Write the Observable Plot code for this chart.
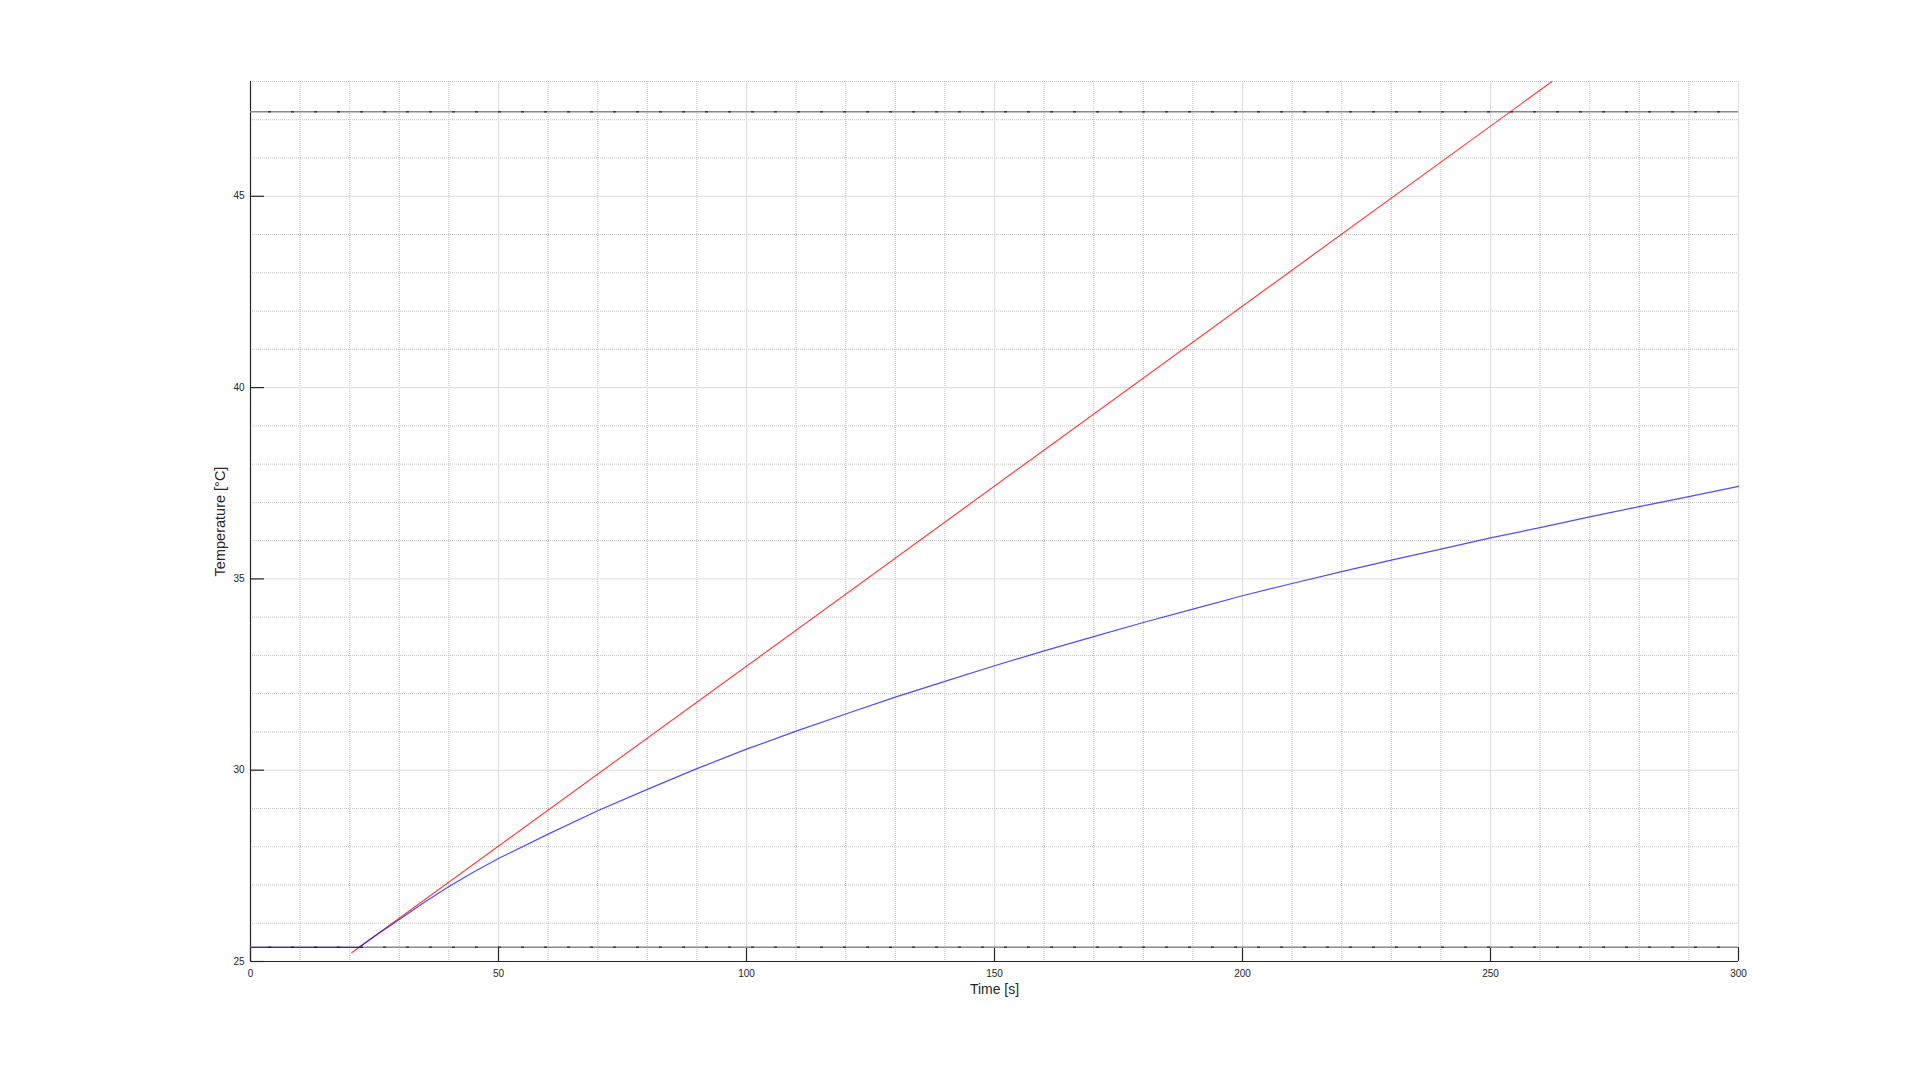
<!DOCTYPE html>
<html>
<head>
<meta charset="utf-8">
<script src="https://cdn.jsdelivr.net/npm/d3@7"></script>
<script src="https://cdn.jsdelivr.net/npm/@observablehq/plot@0.6"></script>
<style>
  html, body { margin: 0; padding: 0; background: #fff; }
  svg { display: block; }
</style>
</head>
<body>
<div id="chart"></div>
<script>
// ---- data ----
const xTicks = [0, 50, 100, 150, 200, 250, 300];
const yTicks = [25, 30, 35, 40, 45];
const limitLevels = [25.37, 47.21];

// red line (initial slope / tangent)
const redTime = [20.4, 262.4];
const redTemp = [25.23, 48.0];

// blue curve (measured temperature)
const blueTime = [0, 21.9, 25, 30, 35, 40, 45, 50, 60, 70, 80, 90, 100, 110, 120, 130, 140, 150,
  160, 170, 180, 190, 200, 210, 220, 230, 240, 250, 260, 270, 280, 290, 300];
const blueTemp = [25.37, 25.37, 25.66, 26.10, 26.54, 26.96, 27.34, 27.69, 28.33, 28.94, 29.50, 30.04,
  30.55, 31.02, 31.47, 31.91, 32.32, 32.73, 33.12, 33.49, 33.86, 34.21, 34.56, 34.88, 35.19, 35.49,
  35.78, 36.07, 36.34, 36.62, 36.89, 37.15, 37.42];

// ---- layout ----
const W = 1920, H = 1080;
const mL = 250, mR = 182, mT = 81, mB = 119;
const plotW = W - mL - mR, plotH = H - mT - mB;
const xDomain = [0, 300], yDomain = [25, 48];

const red = redTime.map((t, i) => ({t, v: redTemp[i]}));
const blue = blueTime.map((t, i) => ({t, v: blueTemp[i]}));

const xMinor = d3.range(10, 300, 10).filter(d => d % 50 !== 0);
const yMinor = d3.range(26, 49, 1).filter(d => d % 5 !== 0);
const xMajor = xTicks.filter(d => d !== 0);
const yMajor = yTicks.filter(d => d !== 25);

const font = "'Liberation Sans', Arial, Helvetica, sans-serif";

const chart = Plot.plot({
  width: W, height: H,
  marginLeft: mL, marginRight: mR, marginTop: mT, marginBottom: mB,
  style: {background: "#fff", fontFamily: font, color: "#262626"},
  x: {domain: xDomain, axis: null},
  y: {domain: yDomain, axis: null},
  marks: [
    // minor dotted grid
    Plot.ruleX(xMinor, {stroke: "#c2c2c2", strokeWidth: 1, strokeDasharray: "1,1"}),
    Plot.ruleY(yMinor, {stroke: "#c2c2c2", strokeWidth: 1, strokeDasharray: "1,1"}),
    // major solid grid
    Plot.ruleX(xMajor, {stroke: "#dcdcdc", strokeWidth: 1}),
    Plot.ruleY(yMajor, {stroke: "#dcdcdc", strokeWidth: 1}),
    // axis lines
    Plot.ruleX([xDomain[0]], {stroke: "#262626", strokeWidth: 1.2}),
    Plot.ruleY([yDomain[0]], {stroke: "#262626", strokeWidth: 1.2}),
    // inward ticks
    Plot.tickX(xTicks, {stroke: "#262626", strokeWidth: 1.2, insetTop: plotH - 14}),
    Plot.tickY(yTicks, {stroke: "#262626", strokeWidth: 1.2, insetRight: plotW - 14}),
    // tick labels
    Plot.axisX({ticks: xTicks, tickSize: 0, tickPadding: 8, fontSize: 10, label: null, tickFormat: d => String(d)}),
    Plot.axisY({ticks: yTicks, tickSize: 0, tickPadding: 6, fontSize: 10, label: null, tickFormat: d => String(d)}),
    // horizontal limit lines with marker dashes
    Plot.ruleY(limitLevels, {stroke: "#8a8a8a", strokeWidth: 1.5}),
    Plot.ruleY(limitLevels, {stroke: "#3a3a3a", strokeWidth: 1.5, strokeDasharray: "3,20", strokeDashoffset: 5}),
    // series
    Plot.line(red, {x: "t", y: "v", stroke: "#ff0000", strokeWidth: 1.2, strokeOpacity: 0.75}),
    Plot.line(blue, {x: "t", y: "v", stroke: "#0000ff", strokeWidth: 1.2, strokeOpacity: 0.7}),
    // axis titles
    Plot.text(["Time [s]"], {frameAnchor: "bottom", dy: 32, fontSize: 14, fill: "#262626"}),
    Plot.text(["Temperature [°C]"], {frameAnchor: "left", textAnchor: "middle", dx: -30, rotate: -90, fontSize: 14.5, fill: "#262626"})
  ]
});
document.getElementById("chart").appendChild(chart);
</script>
</body>
</html>
